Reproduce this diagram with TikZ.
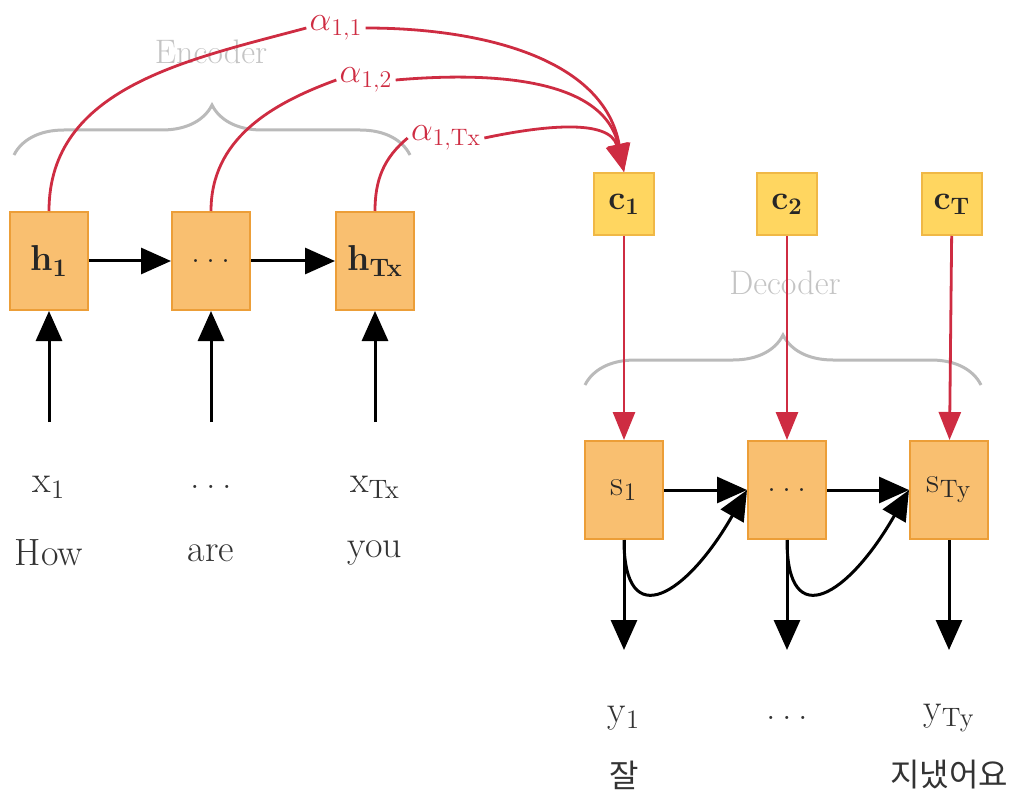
\documentclass[tikz,border=0pt]{standalone}
\usepackage{fontspec}
\newfontfamily\kofont{Noto Sans CJK KR}
\usetikzlibrary{
    positioning,
    arrows.meta,
    decorations.pathreplacing
}

\definecolor{cellfill}{RGB}{249,191,112}
\definecolor{celldraw}{RGB}{236,158,56}
\definecolor{ctxfill}{RGB}{255,214,96}
\definecolor{ctxdraw}{RGB}{240,184,70}
\definecolor{attnred}{RGB}{206,44,66}
\definecolor{bracegray}{RGB}{186,186,186}
\definecolor{partgray}{RGB}{196,196,196}

\begin{document}
\begin{tikzpicture}[
    x=0.5pt, y=-0.5pt,
    cell/.style={
        rectangle, draw=celldraw, line width=1pt, fill=cellfill,
        minimum width=39pt, minimum height=49pt, inner sep=1pt,
        font=\fontsize{18}{21}\selectfont, text=black!85
    },
    ctx/.style={
        rectangle, draw=ctxdraw, line width=1pt, fill=ctxfill,
        minimum width=30pt, minimum height=31pt, inner sep=1pt,
        font=\fontsize{17}{20}\selectfont\bfseries, text=black!85
    },
    word/.style={font=\fontsize{19}{22}\selectfont, text=black!80, inner sep=1pt},
    kword/.style={font=\fontsize{16}{19}\kofont, text=black!80, inner sep=1pt},
    part/.style={font=\fontsize{17}{20}\selectfont, text=partgray},
    weight/.style={font=\fontsize{17}{20}\selectfont, text=attnred, inner sep=1.5pt},
    arr/.style={-{Triangle[length=15pt,width=13pt]}, line width=1.5pt},
    attn/.style={-{Triangle[length=14pt,width=11pt]}, line width=1.4pt, draw=attnred},
    attnline/.style={line width=1.4pt, draw=attnred},
    curly/.style={decorate, decoration={brace, amplitude=25pt},
        draw=bracegray, line width=1.5pt}
]
\useasboundingbox (0,0) rectangle (1017,802);

% Encoder cells
\node[cell] (h1) at (49,261) {\textbf{h\textsubscript{1}}};
\node[cell] (h_mid) at (211,261) {.\,.\,.};
\node[cell] (h_T) at (375,261) {\textbf{h\textsubscript{Tx}}};

% Encoder inputs
\node[word] (x1) at (49,487) {x\textsubscript{1}};
\node[word] (x_mid) at (211,487) {.\,.\,.};
\node[word] (x_T) at (375,487) {x\textsubscript{Tx}};
\node[word] (w_how) at (49,553) {How};
\node[word] (w_are) at (211,553) {are};
\node[word] (w_you) at (375,553) {you};
\coordinate (x1_in) at (49,422);
\coordinate (x_mid_in) at (211,422);
\coordinate (x_T_in) at (375,422);

% Encoder brace
\node[part] (enc_title) at (211,52) {Encoder};
\coordinate (enc_l) at (14,155);
\coordinate (enc_r) at (410,155);
\draw[curly] (enc_l) -- (enc_r);

% Context vectors
\node[ctx] (c1) at (624,204) {c\textsubscript{1}};
\node[ctx] (c2) at (787,204) {c\textsubscript{2}};
\node[ctx] (c_T) at (952,204) {c\textsubscript{T}};

% Decoder cells
\node[cell] (s1) at (624,490) {s\textsubscript{1}};
\node[cell] (s_mid) at (787,490) {.\,.\,.};
\node[cell] (s_T) at (949,490) {s\textsubscript{Ty}};

% Decoder outputs
\node[word] (y1) at (624,718) {y\textsubscript{1}};
\node[word] (y_mid) at (787,718) {.\,.\,.};
\node[word] (y_T) at (949,718) {y\textsubscript{Ty}};
\node[kword] (k_first) at (624,775) {잘};
\node[kword] (k_last) at (949,775) {지냈어요};
\coordinate (y1_out) at (624,650);
\coordinate (y_mid_out) at (787,650);
\coordinate (y_T_out) at (949,650);

% Decoder brace
\node[part] (dec_title) at (785,283) {Decoder};
\coordinate (dec_l) at (585,385);
\coordinate (dec_r) at (981,385);
\draw[curly] (dec_l) -- (dec_r);

% Attention weights
\node[weight] (a11) at (336,28) {$\alpha_{1,1}$};
\node[weight] (a12) at (366,80) {$\alpha_{1,2}$};
\node[weight] (a1T) at (446,138) {$\alpha_{1,\mathrm{Tx}}$};

% Arrows
\draw[arr] (x1_in) -- (h1.south);
\draw[arr] (x_mid_in) -- (h_mid.south);
\draw[arr] (x_T_in) -- (h_T.south);
\draw[arr] (h1) -- (h_mid);
\draw[arr] (h_mid) -- (h_T);

\draw[attnline] (h1.north) to[out=90, in=195] (a11.west);
\draw[attn] (a11.east) to[out=0, in=100] (c1.north);
\draw[attnline] (h_mid.north) to[out=90, in=200] (a12.west);
\draw[attn] (a12.east) to[out=5, in=102] (c1.north);
\draw[attnline] (h_T.north) to[out=90, in=220] (a1T.west);
\draw[attn] (a1T.east) to[out=12, in=105] (c1.north);

\draw[attn] (c1) -- (s1);
\draw[attn] (c2) -- (s_mid);
\draw[attn] (c_T) -- (s_T);

\draw[arr] (s1) -- (s_mid);
\draw[arr] (s_mid) -- (s_T);
\draw[arr] (s1.south) .. controls +(0,95) and +(-60,105) .. (s_mid.west);
\draw[arr] (s_mid.south) .. controls +(0,95) and +(-60,105) .. (s_T.west);
\draw[arr] (s1.south) -- (y1_out);
\draw[arr] (s_mid.south) -- (y_mid_out);
\draw[arr] (s_T.south) -- (y_T_out);

\end{tikzpicture}
\end{document}
